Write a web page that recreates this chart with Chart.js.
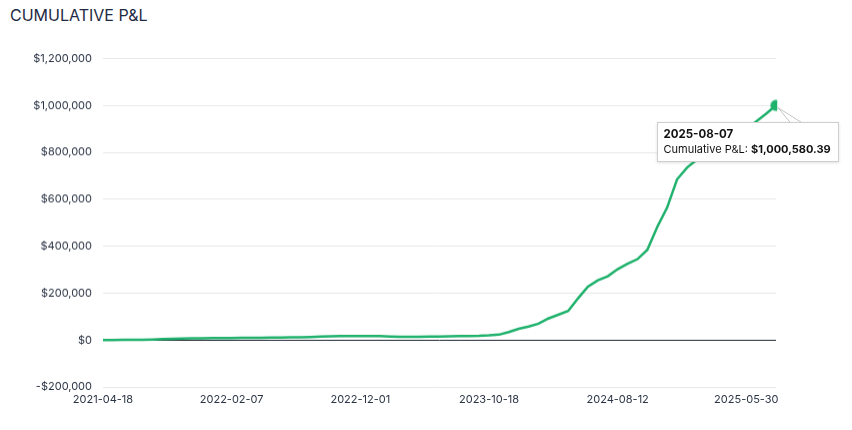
<!DOCTYPE html>
<html>
<head>
<meta charset="utf-8">
<title>Cumulative P&amp;L</title>
<script src="https://cdn.jsdelivr.net/npm/chart.js@4.4.1/dist/chart.umd.min.js"></script>
<style>
  body { margin: 0; background: #fff; font-family: Inter, "Noto Sans", sans-serif; }
  .pnl-title { position: absolute; left: 10px; top: 4px; margin: 0; font-size: 16px; line-height: 22px; font-weight: 400; color: #1e2a44; }
  .pnl-chart { position: absolute; left: 0; top: 41.4px; width: 852px; height: 370.2px; }
  #pnlTip { position: absolute; background: #fff; border: 1px solid #cfcfcf; box-shadow: 0 1px 3px rgba(0,0,0,0.12);
            padding: 4px 7px 4px 6px; font-size: 11px; line-height: 15px; color: #111; white-space: nowrap; }
  #pnlTip .tip-date { font-weight: 700; font-size: 11.5px; }
  #pnlTip b { font-weight: 700; }
  #pnlCaret { position: absolute; left: 0; top: 0; pointer-events: none; }
</style>
</head>
<body>
<h3 class="pnl-title">CUMULATIVE P&amp;L</h3>
<div class="pnl-chart"><canvas id="pnlChart"></canvas></div>
<svg id="pnlCaret" width="852" height="430"><polyline id="caretLine" fill="none" stroke="#c4c4c4" stroke-width="1" points=""/></svg>
<div id="pnlTip"></div>

<script>
// dates along the x axis (sampled)
const dates = [
  '2021-04-18', '2021-05-11', '2021-06-03', '2021-06-25', '2021-07-18', '2021-08-10', '2021-09-01',
  '2021-09-24', '2021-10-17', '2021-11-08', '2021-12-01', '2021-12-24', '2022-01-15', '2022-02-07',
  '2022-03-02', '2022-03-25', '2022-04-17', '2022-05-09', '2022-06-01', '2022-06-24', '2022-07-17',
  '2022-08-08', '2022-08-31', '2022-09-23', '2022-10-16', '2022-11-08', '2022-12-01',
  '2022-12-26', '2023-01-20', '2023-02-13', '2023-03-10', '2023-04-04', '2023-04-29', '2023-05-23',
  '2023-06-17', '2023-07-12', '2023-08-05', '2023-08-30', '2023-09-24', '2023-10-18',
  '2023-11-10', '2023-12-03', '2023-12-26', '2024-01-18', '2024-02-10', '2024-03-04', '2024-03-27',
  '2024-04-19', '2024-05-12', '2024-06-04', '2024-06-27', '2024-07-20', '2024-08-12',
  '2024-09-03', '2024-09-26', '2024-10-18', '2024-11-09', '2024-12-02', '2024-12-24', '2025-01-16',
  '2025-02-07', '2025-03-02', '2025-03-24', '2025-04-15', '2025-05-08', '2025-05-30',
  '2025-06-22', '2025-07-15', '2025-08-07'
];

// cumulative P&L
const cumulativePnl = [
  0, 0, 500, 1000, 1500, 2500, 4000,
  5000, 6000, 7000, 7500, 8500, 8000, 8500,
  9000, 9500, 10000, 10500, 11000, 11500, 12000,
  13000, 14500, 15500, 16500, 17000, 17500,
  17500, 17000, 15000, 13500, 14000, 14000, 14500,
  15000, 15500, 16500, 17000, 18000, 20000,
  23000, 34000, 48000, 58000, 70000, 92000, 108000,
  124000, 178000, 228000, 255000, 272000, 302000,
  325000, 345000, 385000, 482000, 565000, 685000, 735000,
  769000, 795000, 820000, 845000, 870000, 900000,
  932000, 965000, 1000580.39
];

// labels that show under the x axis
const tickLabels = ['2021-04-18', '2022-02-07', '2022-12-01', '2023-10-18', '2024-08-12', '2025-05-30'];

const lineGreen = '#20b26d';
const tickColor = '#2b3445';

const money = (v, digits) => {
  const s = Math.abs(v).toLocaleString('en-US', { minimumFractionDigits: digits, maximumFractionDigits: digits });
  return (v < 0 ? '-$' : '$') + s;
};

const ctx = document.getElementById('pnlChart').getContext('2d');
const chart = new Chart(ctx, {
  type: 'line',
  data: {
    labels: dates,
    datasets: [{
      label: 'Cumulative P&L',
      data: cumulativePnl,
      borderColor: lineGreen,
      backgroundColor: lineGreen,
      borderWidth: 2.5,
      pointRadius: 0,
      pointHoverRadius: 5,
      pointHoverBorderWidth: 2,
      pointHoverBorderColor: 'rgba(32,178,109,0.55)',
      pointHoverBackgroundColor: lineGreen,
      tension: 0,
      fill: false,
    }],
  },
  options: {
    responsive: true,
    maintainAspectRatio: false,
    animation: false,
    events: [],
    layout: { padding: { top: 12, right: 76, bottom: 0, left: 0 } },
    plugins: {
      legend: { display: false },
      tooltip: { enabled: false },
    },
    scales: {
      x: {
        type: 'category',
        grid: { display: false, drawTicks: false },
        border: { display: false },
        ticks: {
          autoSkip: false,
          maxRotation: 0,
          minRotation: 0,
          padding: 6,
          color: tickColor,
          font: { family: 'Inter', size: 11 },
          callback: function (value) {
            const lbl = this.getLabelForValue(value);
            return tickLabels.includes(lbl) ? lbl : '';
          },
        },
      },
      y: {
        min: -200000,
        max: 1200000,
        afterFit: (scale) => { scale.width = 103; },
        grid: {
          drawTicks: false,
          color: (c) => (c.tick && c.tick.value === 0 ? '#1f2533' : '#e8e8e8'),
          lineWidth: 1,
        },
        border: { display: false },
        ticks: {
          stepSize: 200000,
          padding: 11,
          color: tickColor,
          font: { family: 'Inter', size: 11 },
          callback: (v) => money(v, 0),
        },
      },
    },
  },
});

// highlight the last point and show its tooltip
const last = cumulativePnl.length - 1;
chart.setActiveElements([{ datasetIndex: 0, index: last }]);
chart.update();

const pt = chart.getDatasetMeta(0).data[last];
const canvasBox = chart.canvas.getBoundingClientRect();
const px = canvasBox.left + pt.x;
const py = canvasBox.top + pt.y;

const tip = document.getElementById('pnlTip');
tip.innerHTML = '<div class="tip-date">' + dates[last] + '</div>' +
  '<div>Cumulative P&amp;L: <b>' + money(cumulativePnl[last], 2) + '</b></div>';
const tipLeft = px - 119.5;
const tipTop = py + 16;
tip.style.left = tipLeft + 'px';
tip.style.top = tipTop + 'px';

document.getElementById('caretLine').setAttribute('points',
  (px + 14) + ',' + (tipTop + 0.5) + ' ' + (px + 2) + ',' + (py + 2) + ' ' + (px + 25) + ',' + (tipTop + 0.5));
</script>
</body>
</html>
